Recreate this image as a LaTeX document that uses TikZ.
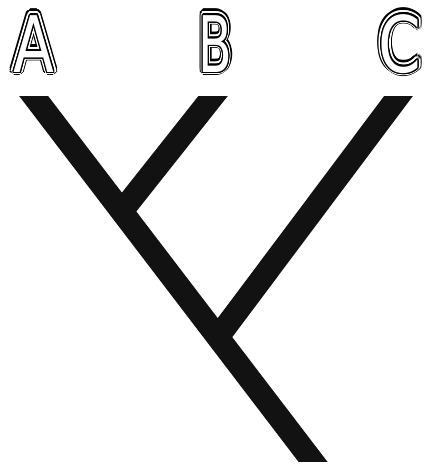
\documentclass[tikz,border=0pt]{standalone}
\usepackage{fontspec}
\usepackage{contour}
\newfontfamily\tipfont{DejaVu Sans Condensed}
\usetikzlibrary{positioning, calc}

\begin{document}
\begin{tikzpicture}[x=1pt, y=-1pt,
  branch/.style={line width=23pt, black!93, line cap=butt},
  lettr/.style={inner sep=0pt, font=\tipfont\fontsize{78}{80}\selectfont}
]
  \useasboundingbox (0,0) rectangle (426,467);

  % Tip labels, outlined twice
  \foreach \n/\x/\s in {A/34/0.85, B/215.5/0.7, C/400/0.87}{
    \node[lettr, xscale=\s] at (\x,44.5)
      {\color{black}\contourlength{4.8pt}\contour{black}{\n}};
    \node[lettr, xscale=\s] at (\x,44.5)
      {\color{white}\contourlength{3.1pt}\contour{white}{\n}};
    \node[lettr, xscale=\s] (\n) at (\x,44.5)
      {\color{white}\contourlength{1.5pt}\contour{black}{\n}};
  }

  % Branch ends and nodes of the tree
  \coordinate (tipA) at (26,86);
  \coordinate (root) at (320,471);
  \coordinate (tipB) at (221,86);
  \coordinate (j1) at (122,211);
  \coordinate (tipC) at (406,86);
  \coordinate (j2) at (218,337);

  % Tree, ends cut flat
  \begin{scope}
    \clip (0,96) rectangle (426,461);
    \draw[branch] (tipA) -- (root);
    \draw[branch] (tipB) -- (j1);
    \draw[branch] (tipC) -- (j2);
  \end{scope}
\end{tikzpicture}
\end{document}
